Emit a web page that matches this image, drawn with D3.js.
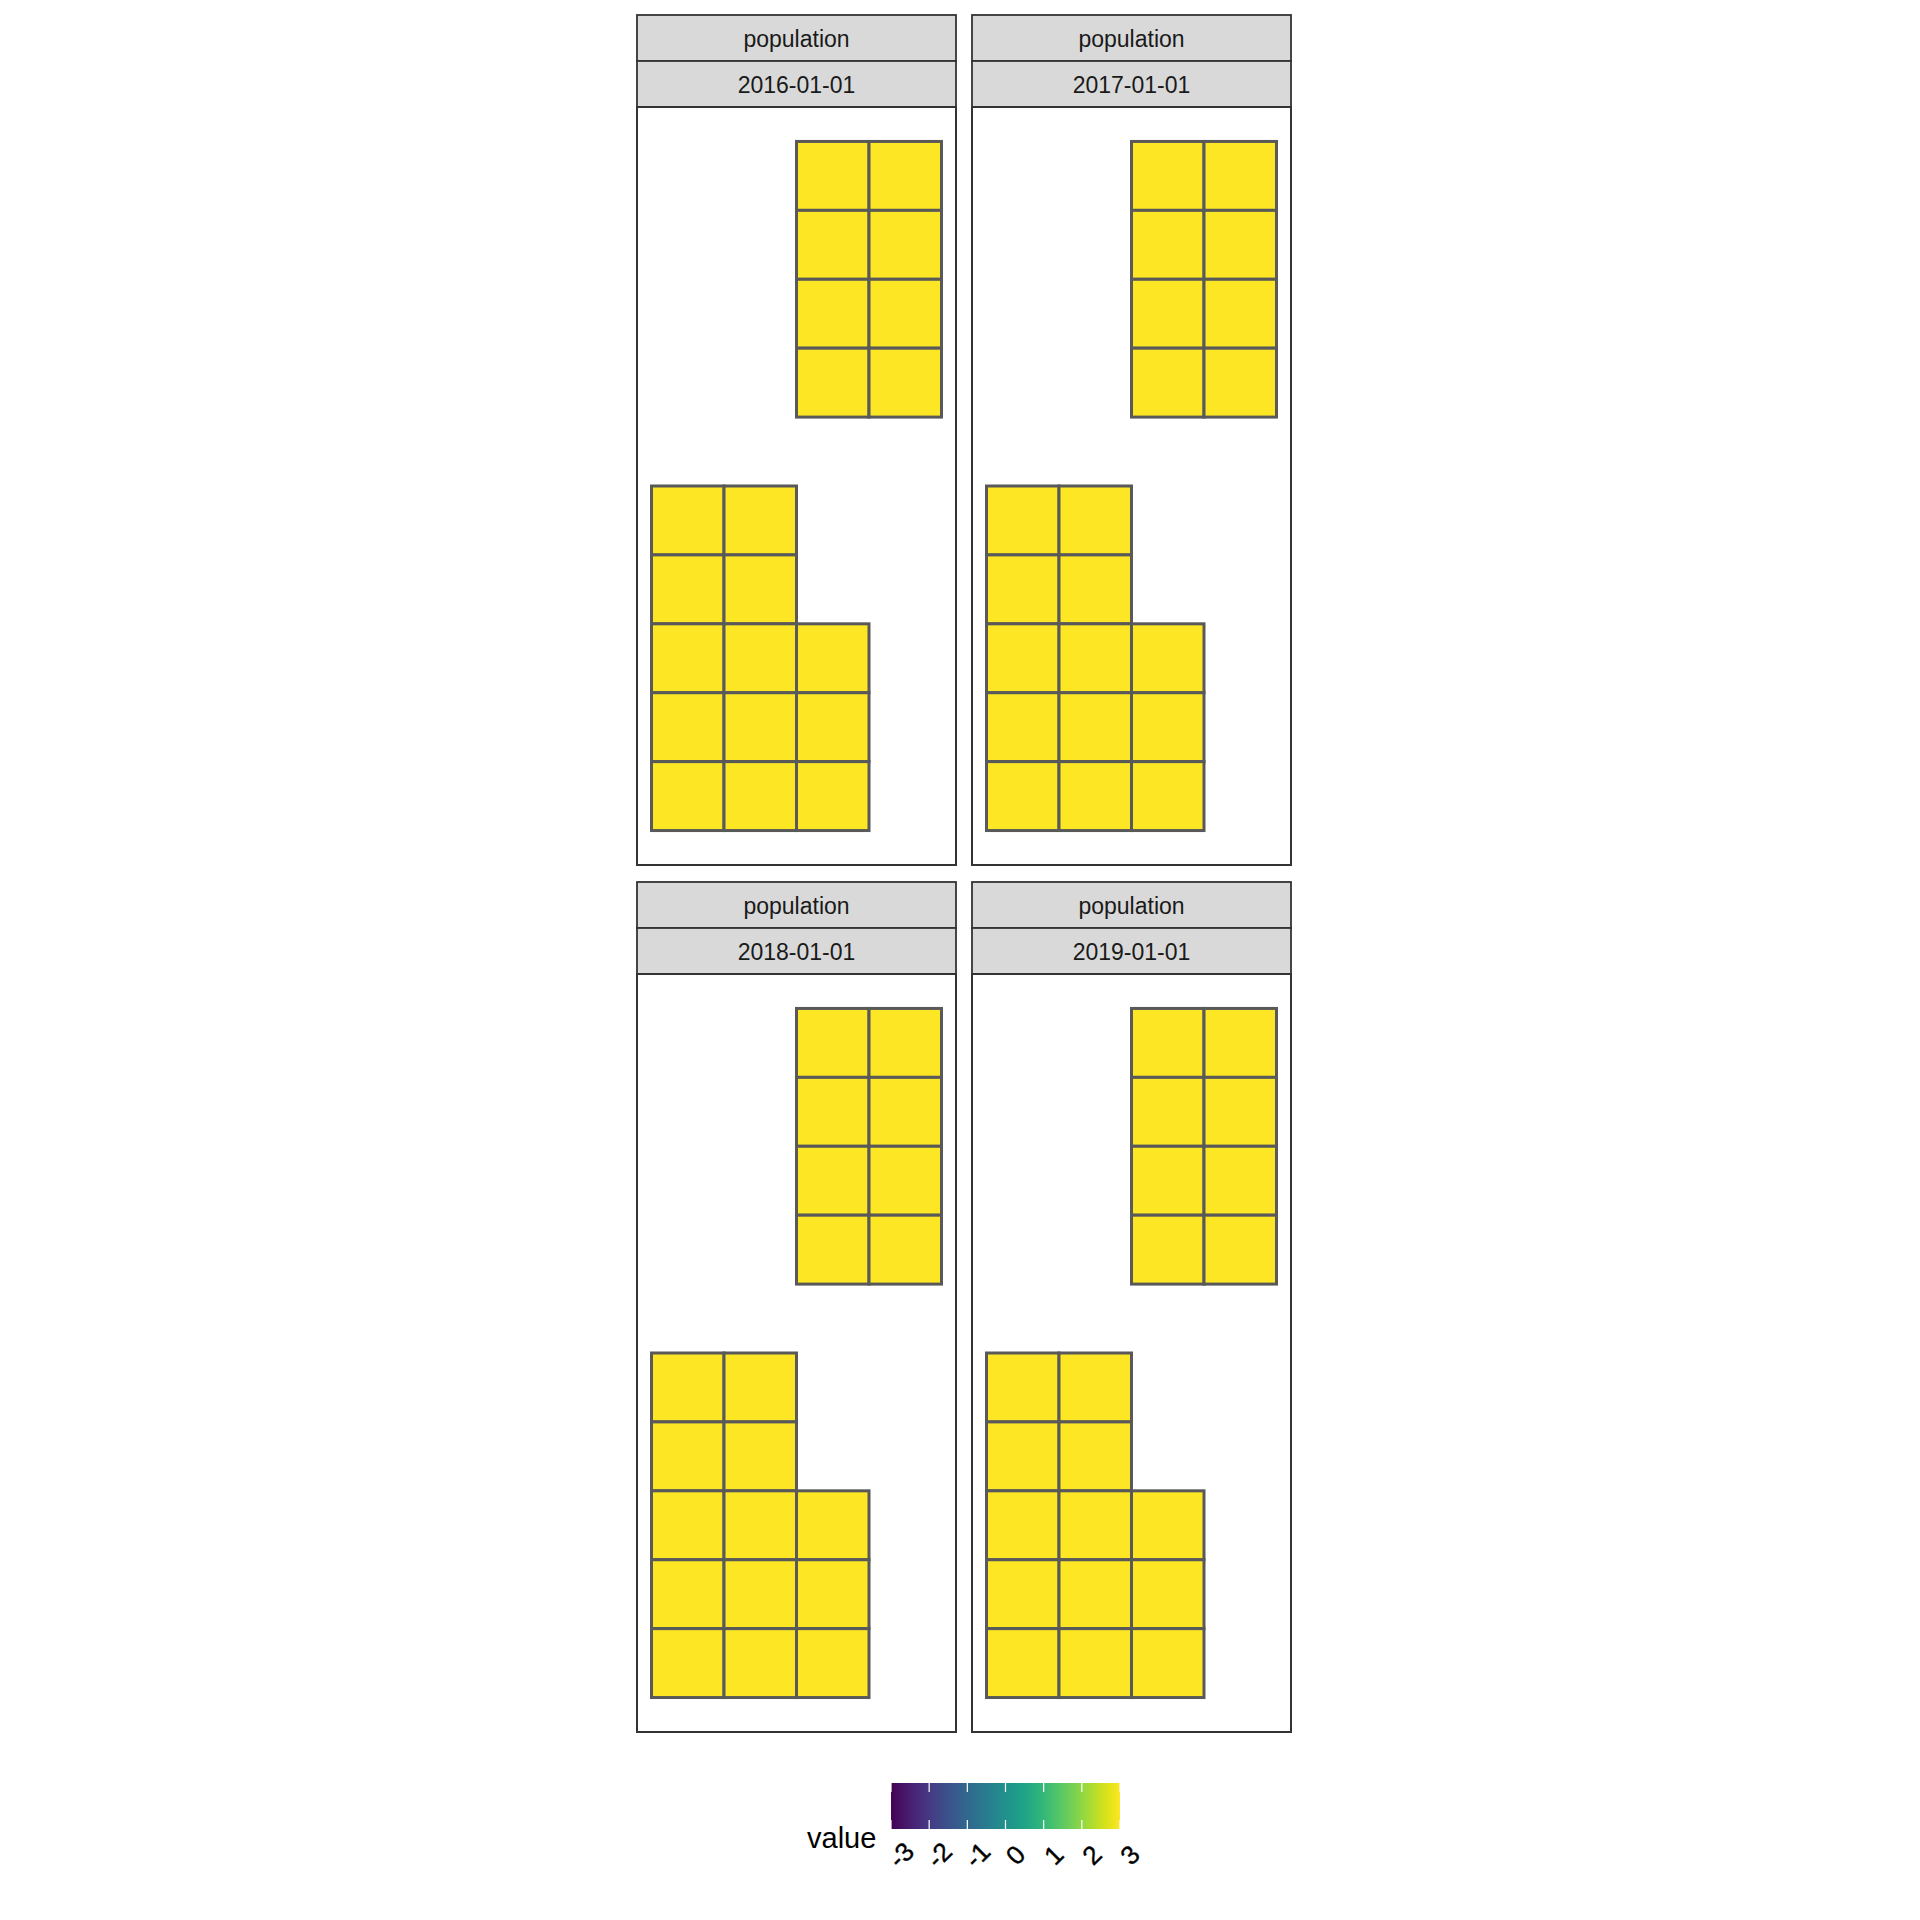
<!DOCTYPE html>
<html>
<head>
<meta charset="utf-8">
<script src="https://cdn.jsdelivr.net/npm/d3@7"></script>
<style>
body{margin:0;background:#fff;}
svg{display:block;font-family:"Liberation Sans",Arial,Helvetica,sans-serif;}
</style>
</head>
<body>
<div id="chart"></div>
<script>
// facet labels
const variables = ["population","population","population","population"];
const dates = ["2016-01-01","2017-01-01","2018-01-01","2019-01-01"];
// tile grid: column, row (row 1 at the bottom), value
const cellCols = [3,4,3,4,3,4,3,4, 1,2,1,2, 1,2,3,1,2,3,1,2,3];
const cellRows = [10,10,9,9,8,8,7,7, 5,5,4,4, 3,3,3,2,2,2,1,1,1];
const cellValues = [3,3,3,3,3,3,3,3, 3,3,3,3, 3,3,3,3,3,3,3,3,3];
// legend
const legendTitle = "value";
const legendDomain = [-3,3];

const W = 1920, H = 1920;
const svg = d3.select("#chart").append("svg").attr("width",W).attr("height",H);

const panelLeft = [637, 972];
const panelW = 319;
const stripTop = [15, 882];
const stripH = 46;
const panelH = 758;

const color = d3.scaleSequential(d3.interpolateViridis).domain(legendDomain);

const x = d3.scaleLinear().domain([0.3, 4.7]).range([0, panelW]);
const y = d3.scaleLinear().domain([0, 11]).range([panelH, 0]);

const cells = cellCols.map((c,i)=>({col:c,row:cellRows[i],value:cellValues[i]}));

dates.forEach((d,i)=>{
    let px = panelLeft[i%2];
    let st = stripTop[Math.floor(i/2)];
    let g = svg.append("g").attr("transform","translate("+px+","+st+")");

    // strips
    [variables[i], d].forEach((lab,k)=>{
        g.append("rect").attr("x",0).attr("y",k*stripH).attr("width",panelW).attr("height",stripH)
            .attr("fill","#d9d9d9").attr("stroke","#333333").attr("stroke-width",1.8);
        g.append("text").attr("x",panelW/2).attr("y",k*stripH+stripH/2+1)
            .attr("dy","0.35em").attr("text-anchor","middle")
            .attr("font-size",23).attr("fill","#1a1a1a").text(lab);
    });

    let p = g.append("g").attr("transform","translate(0,"+(2*stripH)+")");
    p.append("rect").attr("width",panelW).attr("height",panelH).attr("fill","#fff");
    p.selectAll("rect.tile").data(cells).join("rect").attr("class","tile")
        .attr("x",c=>x(c.col-0.5)).attr("y",c=>y(c.row+0.5))
        .attr("width",c=>x(c.col+0.5)-x(c.col-0.5))
        .attr("height",c=>y(c.row-0.5)-y(c.row+0.5))
        .attr("fill",c=>color(c.value))
        .attr("stroke","#595959").attr("stroke-width",3);
    p.append("rect").attr("width",panelW).attr("height",panelH)
        .attr("fill","none").attr("stroke","#333333").attr("stroke-width",2);
});

// colour bar legend
const lx = d3.scaleLinear().domain(legendDomain).range([891,1120]);
const barTop = 1783, barH = 46;
const defs = svg.append("defs");
const grad = defs.append("linearGradient").attr("id","vir");
d3.range(0,1.0001,0.05).forEach(t=>{
    grad.append("stop").attr("offset",(t*100)+"%").attr("stop-color",d3.interpolateViridis(t));
});
svg.append("rect").attr("x",lx(legendDomain[0])).attr("y",barTop)
    .attr("width",lx(legendDomain[1])-lx(legendDomain[0])).attr("height",barH)
    .attr("fill","url(#vir)");
const ticks = lx.ticks(7);
ticks.forEach(t=>{
    svg.append("line").attr("x1",lx(t)).attr("x2",lx(t)).attr("y1",barTop).attr("y2",barTop+9)
        .attr("stroke","#fff").attr("stroke-width",1.2);
    svg.append("line").attr("x1",lx(t)).attr("x2",lx(t)).attr("y1",barTop+barH-9).attr("y2",barTop+barH)
        .attr("stroke","#fff").attr("stroke-width",1.2);
    svg.append("text").attr("transform","translate("+(lx(t)+10)+","+(barTop+barH+26)+") rotate(-45)")
        .attr("text-anchor","middle").attr("dy","0.35em")
        .attr("font-size",26).attr("fill","#000").attr("stroke","#000").attr("stroke-width",0.4)
        .text(t);
});
svg.append("text").attr("x",807).attr("y",1848).attr("font-size",29).attr("fill","#000").text(legendTitle);
</script>
</body>
</html>
